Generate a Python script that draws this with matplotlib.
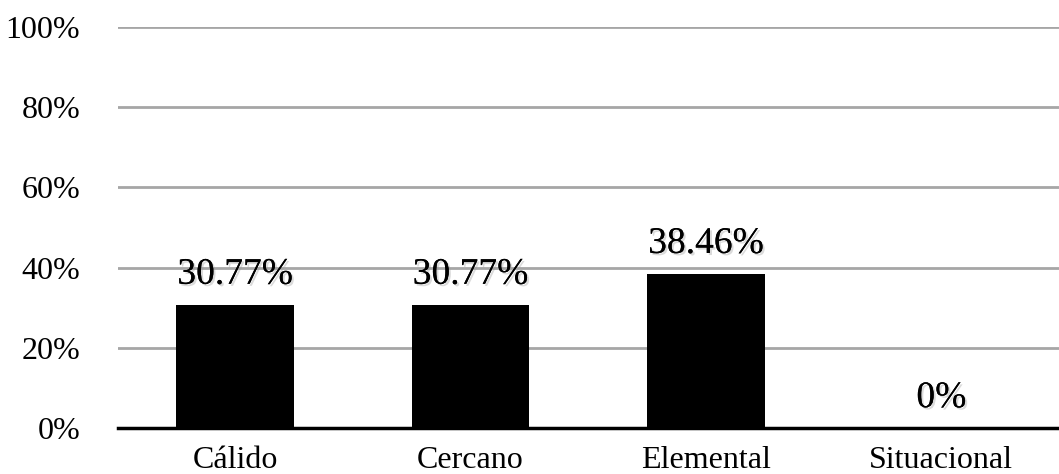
import matplotlib
matplotlib.use("Agg")
import matplotlib.pyplot as plt
import matplotlib.patheffects as pe
from matplotlib.ticker import FuncFormatter

categories = ["Cálido", "Cercano", "Elemental", "Situacional"]
values = [30.77, 30.77, 38.46, 0]
labels = ["30.77%", "30.77%", "38.46%", "0%"]
yticks = [0, 20, 40, 60, 80, 100]

plt.rcParams["font.family"] = ["Liberation Serif", "DejaVu Serif"]

fig = plt.figure(figsize=(10.59, 4.74), dpi=100)
ax = fig.add_axes([0.111, 0.097, 0.889, 0.846])

x = range(len(categories))
ax.bar(x, values, width=0.5, color="black", zorder=3)

shadow = [pe.withSimplePatchShadow(offset=(1.5, -1.5), shadow_rgbFace="#999999", alpha=0.35),
          pe.Normal()]
for i, (v, lab) in enumerate(zip(values, labels)):
    ax.text(i, v + 3.2, lab, ha="center", va="bottom", fontsize=27,
            zorder=4, path_effects=shadow)

ax.set_xlim(-0.5, 3.5)
ax.set_ylim(0, 100)
ax.set_yticks(yticks)
ax.yaxis.set_major_formatter(FuncFormatter(lambda v, p: "%d%%" % v))
ax.set_xticks(list(x))
ax.set_xticklabels(categories)
ax.tick_params(axis="both", length=0, labelsize=23)
ax.tick_params(axis="y", pad=27)
ax.tick_params(axis="x", pad=13)

ax.grid(axis="y", color="#a6a6a6", linewidth=2, zorder=0)
for s in ["top", "right", "left"]:
    ax.spines[s].set_visible(False)
ax.spines["bottom"].set_linewidth(2.5)
ax.spines["bottom"].set_zorder(5)

fig.savefig("out.png", dpi=100)
